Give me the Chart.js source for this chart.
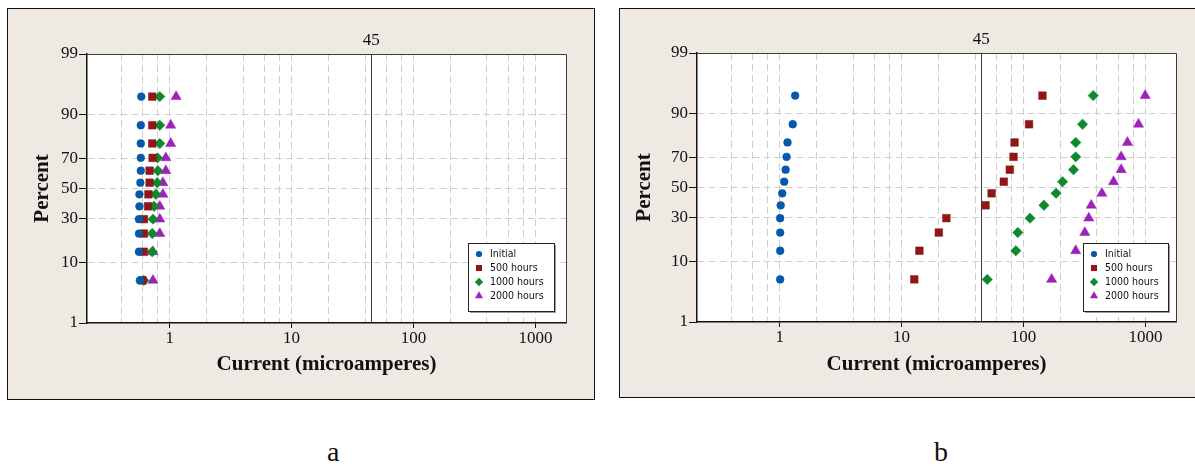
<!DOCTYPE html>
<html>
<head>
<meta charset="utf-8">
<script src="https://cdn.jsdelivr.net/npm/chart.js@4.4.1/dist/chart.umd.min.js"></script>
<style>
  html, body { margin: 0; padding: 0; width: 1195px; height: 470px; overflow: hidden; background: #fff; }
  .panel { position: absolute; background: #eee9e3; border: 1px solid #111; box-sizing: border-box; overflow: hidden; }
  #panelA { left: 7px; top: 8px; width: 588px; height: 392px; }
  #panelB { left: 619px; top: 8px; width: 580px; height: 390px; border-right: none; }
  canvas { display: block; }
  .cap { position: absolute; top: 436px; font: 28px "Liberation Serif", "Times New Roman", serif; color: #111; }
</style>
</head>
<body>
<div class="panel" id="panelA"><canvas id="chartA" width="586" height="390"></canvas></div>
<div class="panel" id="panelB"><canvas id="chartB" width="579" height="388"></canvas></div>
<div class="cap" style="left:327px">a</div>
<div class="cap" style="left:934px">b</div>
<script>
// median ranks (percent) shared by every series
const percentRanks = [5.6, 13.7, 21.8, 29.8, 37.9, 46.0, 54.0, 62.1, 70.2, 78.2, 86.3, 94.4];
const seriesLabels = ['Initial', '500 hours', '1000 hours', '2000 hours'];

// panel a - current (microamperes)
const aInitial = [0.57, 0.56, 0.56, 0.56, 0.565, 0.565, 0.575, 0.58, 0.58, 0.58, 0.58, 0.585];
const a500 = [0.60, 0.615, 0.615, 0.615, 0.665, 0.67, 0.685, 0.685, 0.725, 0.72, 0.72, 0.72];
const a1000 = [0.615, 0.72, 0.72, 0.73, 0.745, 0.77, 0.79, 0.80, 0.795, 0.83, 0.83, 0.83];
const a2000 = [0.73, 0.73, 0.83, 0.83, 0.83, 0.88, 0.88, 0.93, 0.93, 1.02, 1.02, 1.13];

// panel b - current (microamperes)
const bInitial = [1.01, 1.01, 1.01, 1.01, 1.02, 1.05, 1.09, 1.12, 1.14, 1.16, 1.28, 1.34];
const b500 = [12.7, 14.0, 20.2, 23.3, 48.8, 54.7, 68.9, 77.2, 82.8, 84.4, 111, 143];
const b1000 = [50.4, 86.5, 89.8, 113, 147, 185, 209, 257, 268, 268, 305, 373];
const b2000 = [170, 268, 318, 343, 359, 439, 547, 632, 632, 712, 877, 994];

const percentTicks = [1, 10, 30, 50, 70, 90, 99];
const currentGrid = [0.4, 0.6, 0.8, 1, 2, 4, 6, 8, 10, 20, 40, 60, 80, 100, 200, 400, 600, 800, 1000];
const currentLabels = [1, 10, 100, 1000];
const referenceLine = [45];

const colors = ['#0658a8', '#8f1717', '#0c8a2c', '#9c22b8'];
const shapes = ['circle', 'rect', 'rectRot', 'triangle'];
const sizes = [3.9, 5.4, 5.2, 5.9];

const serif = '"Liberation Serif", "Times New Roman", serif';

// inverse of the standard normal cdf (Acklam)
function probit(p) {
  const a = [-39.69683028665376, 220.9460984245205, -275.9285104469687, 138.3577518672690, -30.66479806614716, 2.506628277459239];
  const b = [-54.47609879822406, 161.5858368580409, -155.6989798598866, 66.80131188771972, -13.28068155288572];
  const c = [-0.007784894002430293, -0.3223964580411365, -2.400758277161838, -2.549732539343734, 4.374664141464968, 2.938163982698783];
  const d = [0.007784695709041462, 0.3224671290700398, 2.445134137142996, 3.754408661907416];
  let q, r;
  if (p < 0.02425) {
    q = Math.sqrt(-2 * Math.log(p));
    return (((((c[0]*q+c[1])*q+c[2])*q+c[3])*q+c[4])*q+c[5]) / ((((d[0]*q+d[1])*q+d[2])*q+d[3])*q+1);
  }
  if (p > 1 - 0.02425) {
    q = Math.sqrt(-2 * Math.log(1 - p));
    return -(((((c[0]*q+c[1])*q+c[2])*q+c[3])*q+c[4])*q+c[5]) / ((((d[0]*q+d[1])*q+d[2])*q+d[3])*q+1);
  }
  q = p - 0.5; r = q * q;
  return (((((a[0]*r+a[1])*r+a[2])*r+a[3])*r+a[4])*r+a[5])*q / (((((b[0]*r+b[1])*r+b[2])*r+b[3])*r+b[4])*r+1);
}

// normal probability axis (percent)
class ProbabilityScale extends Chart.Scale {
  determineDataLimits() {
    this.min = this.options.min;
    this.max = this.options.max;
  }
  buildTicks() {
    return percentTicks.map(v => ({ value: v }));
  }
  configure() {
    super.configure();
    this._zLo = probit(this.min / 100);
    this._zHi = probit(this.max / 100);
  }
  getPixelForValue(v) {
    return this.getPixelForDecimal((probit(v / 100) - this._zLo) / (this._zHi - this._zLo));
  }
  getValueForPixel(px) {
    const z = this._zLo + this.getDecimalForPixel(px) * (this._zHi - this._zLo);
    // rough normal cdf
    const t = 1 / (1 + 0.2316419 * Math.abs(z));
    const pdf = Math.exp(-z * z / 2) / Math.sqrt(2 * Math.PI);
    const tail = pdf * t * (0.319381530 + t * (-0.356563782 + t * (1.781477937 + t * (-1.821255978 + t * 1.330274429))));
    return 100 * (z >= 0 ? 1 - tail : tail);
  }
}
ProbabilityScale.id = 'probability';
ProbabilityScale.defaults = {};
Chart.register(ProbabilityScale);

function marker(ctx, style, r, x, y) {
  if (Chart.helpers && Chart.helpers.drawPoint) {
    Chart.helpers.drawPoint(ctx, { pointStyle: style, radius: r, rotation: 0, borderWidth: 0 }, x, y);
    return;
  }
  ctx.beginPath();
  if (style === 'circle') ctx.arc(x, y, r, 0, Math.PI * 2);
  else if (style === 'rect') { const s = r * Math.SQRT1_2; ctx.rect(x - s, y - s, 2 * s, 2 * s); }
  else if (style === 'rectRot') { ctx.moveTo(x, y - r); ctx.lineTo(x + r, y); ctx.lineTo(x, y + r); ctx.lineTo(x - r, y); }
  else { ctx.moveTo(x, y - r); ctx.lineTo(x + r * 0.866, y + r / 2); ctx.lineTo(x - r * 0.866, y + r / 2); }
  ctx.closePath();
  ctx.fill();
}

const plotFrame = {
  id: 'plotFrame',
  beforeDraw(chart) {
    const { ctx, chartArea: a } = chart;
    ctx.save();
    ctx.fillStyle = '#fff';
    ctx.fillRect(a.left, a.top, a.right - a.left, a.bottom - a.top);
    ctx.restore();
  },
  afterDatasetsDraw(chart) {
    const { ctx, chartArea: a } = chart;
    ctx.save();
    ctx.strokeStyle = '#3a3a3a';
    ctx.lineWidth = 1;
    ctx.beginPath();
    ctx.moveTo(a.left, Math.round(a.top) + 0.5);
    ctx.lineTo(Math.round(a.right) + 0.5, Math.round(a.top) + 0.5);
    ctx.lineTo(Math.round(a.right) + 0.5, a.bottom);
    ctx.stroke();
    ctx.restore();
  },
  afterDraw(chart, args, opts) {
    const { ctx, chartArea: a } = chart;
    const x = Math.round(a.right - opts.offsetRight - opts.width);
    const y = Math.round(a.bottom - opts.offsetBottom - opts.height);
    ctx.save();
    ctx.fillStyle = '#9c9c9c';
    ctx.fillRect(x + 2, y + 2, opts.width, opts.height);
    ctx.fillStyle = '#fff';
    ctx.fillRect(x, y, opts.width, opts.height);
    ctx.strokeStyle = '#222';
    ctx.lineWidth = 1;
    ctx.strokeRect(x + 0.5, y + 0.5, opts.width, opts.height);
    ctx.font = '10.5px "DejaVu Sans Condensed", "Liberation Sans", sans-serif';
    ctx.textBaseline = 'middle';
    chart.data.datasets.forEach((ds, i) => {
      const cy = y + 11 + i * 14;
      ctx.fillStyle = ds.backgroundColor;
      marker(ctx, ds.pointStyle, ds.pointRadius * 0.8, x + 11, cy);
      ctx.fillStyle = '#111';
      ctx.fillText(ds.label, x + 22, cy);
    });
    ctx.restore();
  }
};

function probabilityPlot(canvasId, series, box) {
  const el = document.getElementById(canvasId);
  const W = el.width, H = el.height;
  return new Chart(el, {
    type: 'scatter',
    data: {
      datasets: series.map((vals, k) => ({
        label: seriesLabels[k],
        data: vals.map((v, i) => ({ x: v, y: percentRanks[i] })),
        pointStyle: shapes[k],
        pointRadius: sizes[k],
        backgroundColor: colors[k],
        borderColor: colors[k],
        borderWidth: 0.5
      }))
    },
    options: {
      responsive: false,
      animation: false,
      events: [],
      layout: { padding: { left: 0, top: 0, right: W - box.right, bottom: 0 } },
      plugins: {
        legend: { display: false },
        tooltip: { enabled: false },
        plotFrame: box.legend
      },
      scales: {
        x: {
          type: 'logarithmic',
          position: 'bottom',
          min: 0.21,
          max: 1780,
          bounds: 'data',
          afterBuildTicks: s => { s.ticks = currentGrid.map(v => ({ value: v })); },
          afterFit: s => { s.height = H - box.bottom; },
          ticks: {
            autoSkip: false, maxRotation: 0, minRotation: 0, padding: 0,
            color: '#111', font: { family: serif, size: 17 },
            callback: v => currentLabels.includes(v) ? String(v) : ''
          },
          grid: {
            color: '#cfcfcf', lineWidth: 1, tickLength: 5, tickWidth: 1,
            borderDash: [7, 4], tickBorderDash: [],
            tickColor: c => currentLabels.includes(c.tick.value) ? '#111' : 'rgba(0,0,0,0)'
          },
          border: { display: true, color: '#111', width: 1.5, dash: [7, 4] },
          title: {
            display: true, text: 'Current (microamperes)', color: '#111',
            font: { family: serif, size: 21, weight: 'bold' },
            padding: { top: 0, bottom: box.xTitlePad }
          }
        },
        x2: {
          type: 'logarithmic',
          position: 'top',
          min: 0.21,
          max: 1780,
          bounds: 'data',
          afterBuildTicks: s => { s.ticks = referenceLine.map(v => ({ value: v })); },
          afterFit: s => { s.height = box.top; },
          ticks: {
            autoSkip: false, maxRotation: 0, minRotation: 0, padding: 3,
            color: '#111', font: { family: serif, size: 17 },
            callback: v => String(v)
          },
          grid: { color: '#3a3a3a', lineWidth: 1, drawTicks: false },
          border: { display: false }
        },
        y: {
          type: 'probability',
          position: 'left',
          min: 1,
          max: 99,
          afterFit: s => { s.width = box.left; },
          ticks: { autoSkip: false, padding: 1, color: '#111', font: { family: serif, size: 17 } },
          grid: {
            color: c => (c.tick.value === 1 || c.tick.value === 99) ? 'rgba(0,0,0,0)' : '#cfcfcf',
            lineWidth: 1, tickLength: 8, tickWidth: 1, tickColor: '#111',
            borderDash: [7, 4], tickBorderDash: []
          },
          border: { display: true, color: '#111', width: 1.5, dash: [7, 4] },
          title: {
            display: true, text: 'Percent', color: '#111',
            font: { family: serif, size: 21, weight: 'bold' },
            padding: { top: box.yTitlePad, bottom: 0 }
          }
        }
      }
    },
    plugins: [plotFrame]
  });
}

probabilityPlot('chartA', [aInitial, a500, a1000, a2000], {
  left: 79, top: 45, right: 558, bottom: 314, yTitlePad: 22, xTitlePad: 22,
  legend: { offsetRight: 12, offsetBottom: 12, width: 86, height: 68 }
});
probabilityPlot('chartB', [bInitial, b500, b1000, b2000], {
  left: 77, top: 44, right: 556, bottom: 313, yTitlePad: 12, xTitlePad: 20,
  legend: { offsetRight: 8, offsetBottom: 11, width: 85, height: 68 }
});
</script>
</body>
</html>
